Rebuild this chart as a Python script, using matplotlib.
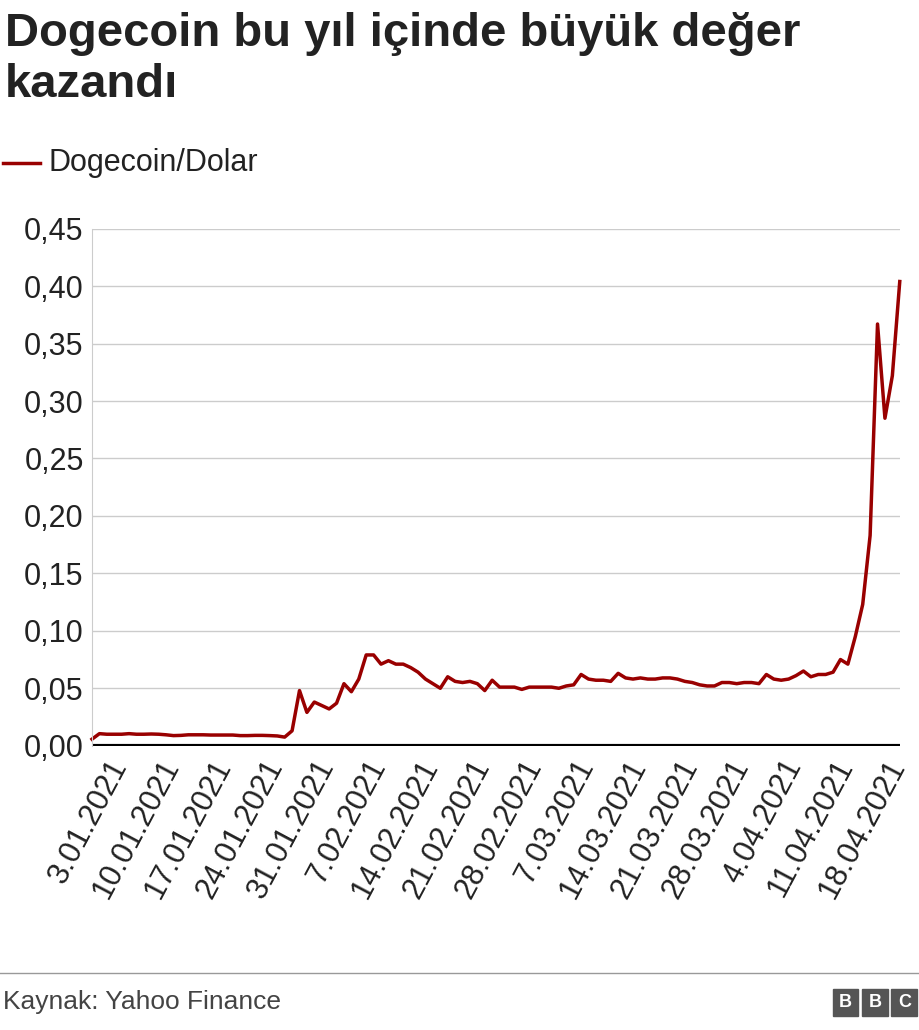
import matplotlib
matplotlib.use("Agg")
import matplotlib.pyplot as plt
import numpy as np
import pandas as pd

plt.rcParams['font.family'] = ['Liberation Sans', 'DejaVu Sans']

start = "2021-01-01"
jan = [0.0057, 0.0105, 0.0100, 0.0100, 0.0100, 0.0105, 0.0100, 0.0100, 0.0102, 0.0100,
       0.0095, 0.0088, 0.0090, 0.0095, 0.0095, 0.0095, 0.0093, 0.0093, 0.0093, 0.0093,
       0.0088, 0.0088, 0.0090, 0.0090, 0.0088, 0.0085, 0.0075, 0.013, 0.048, 0.029, 0.038]
feb = [0.035, 0.032, 0.037, 0.054, 0.047, 0.058, 0.079, 0.079, 0.071, 0.074,
       0.071, 0.071, 0.068, 0.064, 0.058, 0.054, 0.050, 0.060, 0.056, 0.055,
       0.056, 0.054, 0.048, 0.057, 0.051, 0.051, 0.051, 0.049]
mar = [0.051, 0.051, 0.051, 0.051, 0.050, 0.052, 0.053, 0.062, 0.058, 0.057,
       0.057, 0.056, 0.063, 0.059, 0.058, 0.059, 0.058, 0.058, 0.059, 0.059,
       0.058, 0.056, 0.055, 0.053, 0.052, 0.052, 0.055, 0.055, 0.054, 0.055, 0.055]
apr = [0.054, 0.062, 0.058, 0.057, 0.058, 0.061, 0.065, 0.060, 0.062, 0.062,
       0.064, 0.075, 0.071, 0.095, 0.123, 0.183, 0.367, 0.285, 0.322, 0.404]
values = jan + feb + mar + apr
dates = pd.date_range(start, periods=len(values), freq="D")

tick_dates = pd.date_range("2021-01-03", "2021-04-18", freq="7D")
tick_labels = [f"{d.day}.{d.month:02d}.{d.year}" for d in tick_dates]
yticks = [0, 0.05, 0.10, 0.15, 0.20, 0.25, 0.30, 0.35, 0.40, 0.45]

fig = plt.figure(figsize=(9.2, 10.3), dpi=100)
ax = fig.add_axes([0.1, 0.276, 0.878, 0.502])
ax.plot(dates, values, color="#990000", lw=2.5, clip_on=False)
ax.set_xlim(dates[0], dates[-1])
ax.set_ylim(0, 0.45)
ax.set_yticks(yticks)
ax.set_yticklabels([f"{v:.2f}".replace(".", ",") for v in yticks], fontsize=22)
ax.set_xticks(tick_dates)
ax.set_xticklabels(tick_labels, rotation=62, ha="right", rotation_mode="anchor", fontsize=22)
ax.grid(axis="y", color="#cccccc", lw=1)
ax.axhline(0, color="black", lw=3)
for s in ["top", "right", "bottom"]:
    ax.spines[s].set_visible(False)
ax.spines["left"].set_color("#cccccc")
ax.tick_params(axis="both", length=0, pad=6, colors="#222222")
ax.set_axisbelow(True)

fig.text(0.005, 0.988, "Dogecoin bu yıl içinde büyük değer\nkazandı", fontsize=34, fontweight="bold",
         va="top", ha="left", color="#222222", linespacing=1.2)
fig.lines.append(plt.Line2D([0.003, 0.043], [0.842, 0.842], color="#990000", lw=2.5, transform=fig.transFigure))
fig.text(0.053, 0.842, "Dogecoin/Dolar", fontsize=22, va="center", ha="left", color="#222222")

fig.lines.append(plt.Line2D([0, 1], [0.055, 0.055], color="#999999", lw=1, transform=fig.transFigure))
fig.text(0.003, 0.027, "Kaynak: Yahoo Finance", fontsize=19, va="center", ha="left", color="#444444")
for i, ch in enumerate("BBC"):
    x0 = 0.905 + i * 0.032
    fig.patches.append(plt.Rectangle((x0, 0.014), 0.028, 0.026, color="#555555", transform=fig.transFigure))
    fig.text(x0 + 0.014, 0.027, ch, fontsize=13, fontweight="bold", color="white", ha="center", va="center")

fig.savefig("out.png", dpi=100)
